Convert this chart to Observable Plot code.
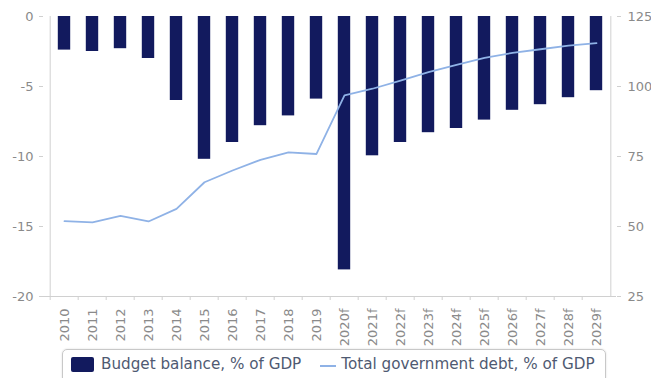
<!DOCTYPE html>
<html>
<head>
<meta charset="utf-8">
<script src="https://cdn.jsdelivr.net/npm/d3@7"></script>
<script src="https://cdn.jsdelivr.net/npm/@observablehq/plot@0.6"></script>
<style>
  html, body { margin: 0; padding: 0; background: #fff; }
  #wrap { position: relative; width: 651px; height: 378px; overflow: hidden; font-family: "DejaVu Sans", sans-serif; }
  #legend { position: absolute; left: 62px; top: 349px; width: 544px; height: 34px; border: 1px solid #c8c8c8; border-radius: 5px; box-shadow: 0 0 2px rgba(0,0,0,0.15); box-sizing: border-box; display: flex; align-items: flex-start; padding-top: 5px; padding-left: 8px; font-size: 15.2px; color: #4f5a72; white-space: nowrap; }
  .sw { display: inline-block; width: 23px; height: 15px; background: #121a5e; border-radius: 2px; margin-right: 7px; margin-top: 2px; }
  .ln { display: inline-block; width: 16px; height: 2px; background: #8fb2e6; margin: 10px 5px 0 19px; }
</style>
</head>
<body>
<div id="wrap"><div id="chart"></div><div id="legend"><span class="sw"></span><span>Budget balance, % of GDP</span><span class="ln"></span><span>Total government debt, % of GDP</span></div></div>
<script>
const years = ["2010","2011","2012","2013","2014","2015","2016","2017","2018","2019","2020f","2021f","2022f","2023f","2024f","2025f","2026f","2027f","2028f","2029f"];
const budgetBalance = [-2.4,-2.5,-2.3,-3.0,-6.0,-10.2,-9.0,-7.8,-7.1,-5.9,-18.1,-9.95,-9.0,-8.3,-8.0,-7.4,-6.7,-6.3,-5.8,-5.3];
const govDebt = [51.9,51.5,53.8,51.8,56.3,65.8,70.0,73.8,76.5,75.9,96.8,99.2,102.1,105.1,107.7,110.2,112.0,113.3,114.6,115.5];
const leftTicks = [0,-5,-10,-15,-20];
const rightTicks = [125,100,75,50,25];

// map right-axis (debt) values onto the left-axis domain
const toLeft = d => (d - 125) / 5;

const bars = years.map((y, i) => ({year: y, value: budgetBalance[i]}));
const debt = years.map((y, i) => ({year: y, value: toLeft(govDebt[i])}));

const gray = "#8a8a8a";
const step = (651 - 43 - 35) / years.length;
const chart = Plot.plot({
  width: 651,
  height: 348,
  marginLeft: 43,
  marginRight: 35,
  marginTop: 16,
  marginBottom: 52,
  style: {fontFamily: "DejaVu Sans, sans-serif", fontSize: "12px", color: gray, background: "#fff"},
  x: {type: "band", domain: years, padding: 0},
  y: {domain: [-20, 0]},
  marks: [
    Plot.barY(bars, {x: "year", y: "value", fill: "#121a5e", insetLeft: 7.8, insetRight: 7.8}),
    Plot.line(debt, {x: "year", y: "value", stroke: "#8fb2e6", strokeWidth: 1.8}),
    Plot.ruleY([-20], {stroke: "#d0d0d0"}),
    Plot.ruleX([years[0]], {stroke: "#d0d0d0", dx: -step / 2}),
    Plot.ruleX([years[years.length - 1]], {stroke: "#d0d0d0", dx: step / 2}),
    Plot.axisY({ticks: leftTicks, tickFormat: d => String(d), tickSize: 4, tickPadding: 6, stroke: "#d0d0d0", label: null, fontSize: 13, fill: gray}),
    Plot.axisY({anchor: "right", ticks: rightTicks.map(toLeft), tickFormat: d => String(Math.round(d * 5 + 125)), tickSize: 4, tickPadding: 7, stroke: "#d0d0d0", label: null, fontSize: 13, fill: gray}),
    Plot.axisX({ticks: years, tickSize: 4, tickFormat: () => "", dx: -step / 2, stroke: "#d0d0d0", label: null}),
    Plot.axisX({ticks: years, tickSize: 0, tickRotate: -90, tickPadding: 12, label: null, fill: gray, fontSize: 13})
  ]
});
document.getElementById("chart").appendChild(chart);
</script>
</body>
</html>
